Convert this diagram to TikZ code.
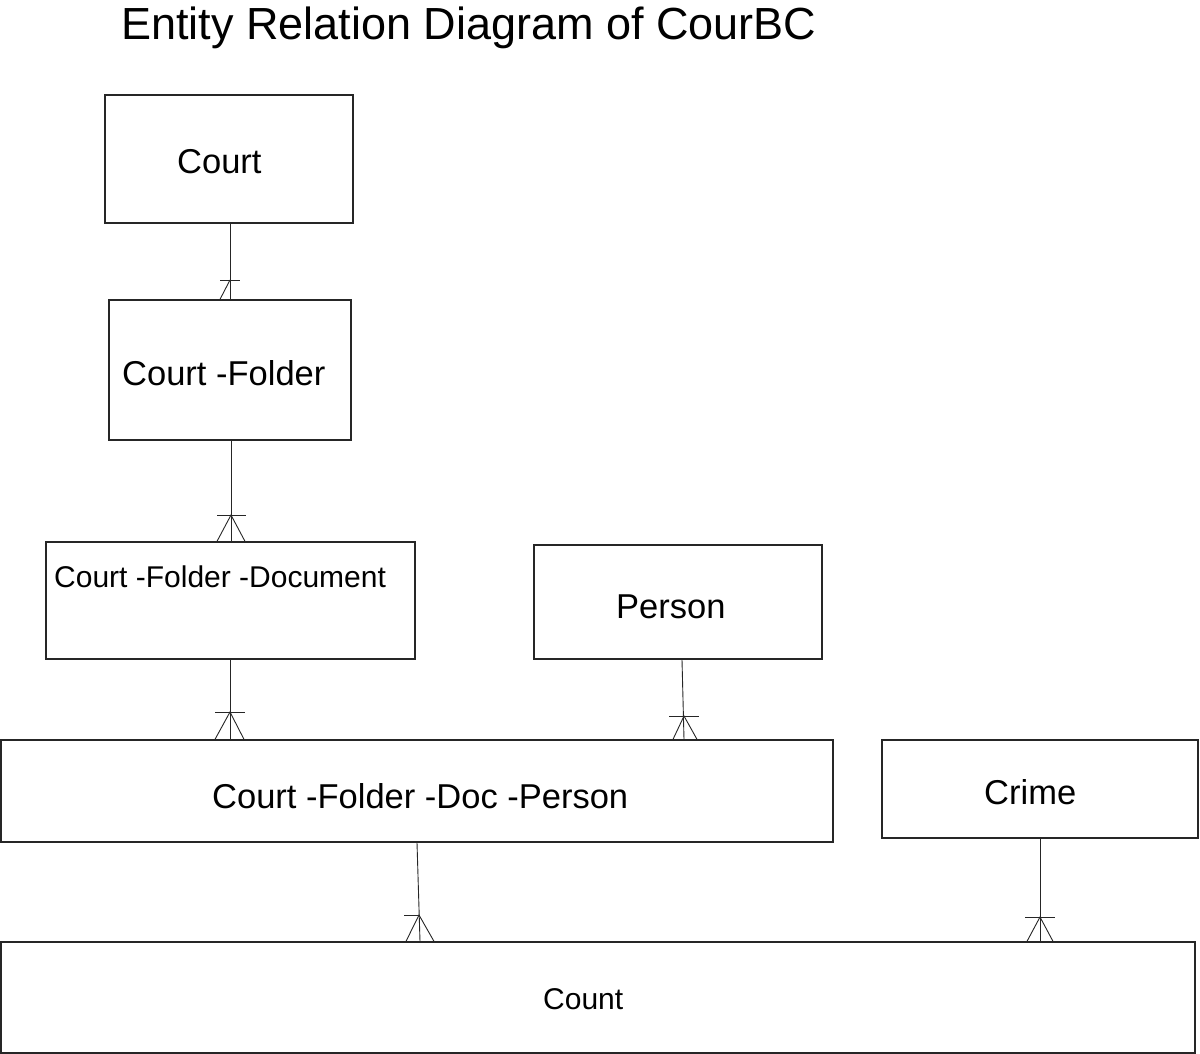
\documentclass[tikz,border=0pt]{standalone}
\usepackage{fontspec}
\setmainfont{Liberation Sans}
\begin{document}
\begin{tikzpicture}[x=1pt,y=-1pt,
  box/.style={draw=black!85,line width=1.3pt,rectangle,inner sep=0pt},
  lbl/.style={anchor=base west,inner sep=0pt,font=\fontsize{34.5}{40}\selectfont},
  lbls/.style={anchor=base west,inner sep=0pt,font=\fontsize{30}{36}\selectfont},
  conn/.style={draw=black!85,line width=0.9pt}]
\useasboundingbox (0,0) rectangle (1200,1054);
\node[anchor=base west,inner sep=0pt,font=\fontsize{45}{50}\selectfont] (title) at (121,40) {Entity Relation Diagram of CourBC};
% boxes
\node[box,minimum width=248,minimum height=128] (court) at (229,159) {};
\node[box,minimum width=242,minimum height=140] (cf) at (230,370) {};
\node[box,minimum width=369,minimum height=117] (cfd) at (230.5,600.5) {};
\node[box,minimum width=288,minimum height=114] (person) at (678,602) {};
\node[box,minimum width=832,minimum height=102] (cfdp) at (417,791) {};
\node[box,minimum width=316,minimum height=98] (crime) at (1040,789) {};
\node[box,minimum width=1194,minimum height=111] (count) at (598,997.5) {};
% labels
\node[lbl] (tcourt) at (177,174) {Court};
\node[lbl] (tcf) at (122,385) {Court -Folder};
\node[lbls] (tcfd) at (54,587) {Court -Folder -Document};
\node[lbl] (tperson) at (616,618) {Person};
\node[lbl] (tcfdp) at (212,808) {Court -Folder -Doc -Person};
\node[lbl] (tcrime) at (984,804) {Crime};
\node[lbls] (tcount) at (543,1009) {Count};
% reference x positions
\coordinate (xa) at (230,0);
\coordinate (xb) at (231,0);
\coordinate (xc) at (230,0);
\coordinate (xf) at (1040,0);
% 1 Court -> Court-Folder
\draw[conn] (court.south -| xa) -- (cf.north -| xa);
\draw[conn] (220,280) -- (240,280);
\draw[conn] (230,280) -- (cf.north -| 220,0);
% 2 Court-Folder -> CFD
\draw[conn] (cf.south -| xb) -- (cfd.north -| xb);
\draw[conn] (217,515) -- (246,515);
\draw[conn] (cfd.north -| 217,0) -- (231,515) -- (cfd.north -| 245,0);
% 3 CFD -> CFDP
\draw[conn] (cfd.south -| xc) -- (cfdp.north -| xc);
\draw[conn] (215,712) -- (245,712);
\draw[conn] (cfdp.north -| 215,0) -- (230,712) -- (cfdp.north -| 244,0);
% 4 Person -> CFDP
\draw[conn] (person.south -| 682,0) -- (cfdp.north -| 684,0);
\draw[conn] (669,716) -- (699,716);
\draw[conn] (cfdp.north -| 673,0) -- (684,716) -- (cfdp.north -| 697,0);
% 5 CFDP -> Count
\draw[conn] (cfdp.south -| 417,0) -- (count.north -| 420,0);
\draw[conn] (404,915) -- (420,915);
\draw[conn] (count.north -| 406,0) -- (419,915) -- (count.north -| 434,0);
% 6 Crime -> Count
\draw[conn] (crime.south -| xf) -- (count.north -| xf);
\draw[conn] (1025,917) -- (1055,917);
\draw[conn] (count.north -| 1027,0) -- (1040,917) -- (count.north -| 1053,0);
\end{tikzpicture}
\end{document}
